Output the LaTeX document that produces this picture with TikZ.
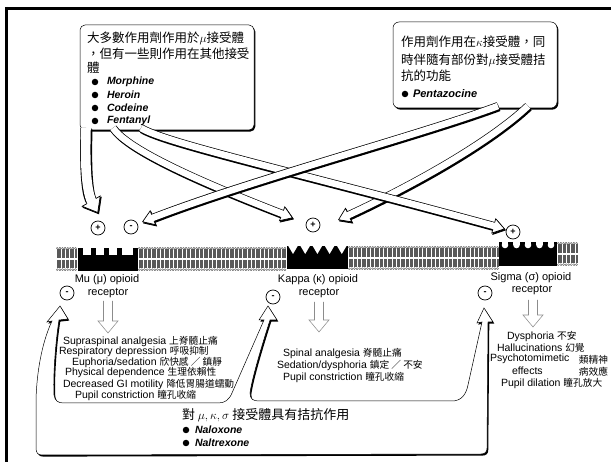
\documentclass[tikz,border=0pt]{standalone}
\usepackage{fontspec}
\setmainfont{Liberation Sans}
\newfontfamily\cjk{Noto Sans CJK TC}
\usetikzlibrary{arrows.meta}
\newcommand\zht[1]{{\cjk\fontsize{9.7}{11}\selectfont #1}}
\newcommand\lipids[3]{% x0, count, top
  \foreach \i in {0,...,#2}{%
    \pgfmathsetmacro\xx{#1+1.3+2.6*\i}%
    \draw[line width=0.22pt, black!75] (\xx,#3+1.3) circle (1.05pt) (\xx,#3+22.7) circle (1.05pt);
    \draw[line width=0.2pt, black!65] (\xx-0.55,#3+2.5) -- (\xx-0.55,#3+11.2) (\xx+0.55,#3+2.5) -- (\xx+0.55,#3+11.2)
      (\xx-0.55,#3+12.8) -- (\xx-0.55,#3+21.5) (\xx+0.55,#3+12.8) -- (\xx+0.55,#3+21.5);
  }}
% hollow arrow: outer width, inner width, head length, head width, path
\newcommand\harrow[5]{%
  \draw[line width=#1, transform canvas={xshift=1pt,yshift=-1.3pt},
    -{Triangle[length=#3,width=#4,line width=0.7pt,fill=black]}] #5;
  \draw[line width=#1, -{Triangle[length=#3,width=#4,line width=0.7pt,fill=white]}] #5;
  \draw[line width=#2, white, shorten >=#3-4pt] #5;
}
\newcommand\effarrowat[3]{%
  \draw[effarrow] (#1-4.5,#2) -- (#1-4.5,#3-12) -- (#1-10,#3-12) -- (#1,#3) -- (#1+10,#3-12) -- (#1+4.5,#3-12) -- (#1+4.5,#2);
}
\tikzset{
  every node/.style={inner sep=0pt, outer sep=0pt},
  sign/.style={circle, draw, line width=0.7pt, minimum size=14pt, font=\bfseries\fontsize{9}{9}\selectfont},
  eff/.style={anchor=west, font=\fontsize{10.5}{11}\selectfont},
  rlabel/.style={font=\fontsize{11}{12}\selectfont},
  drug/.style={anchor=west, font=\bfseries\itshape\fontsize{10.5}{11}\selectfont},
  cjkline/.style={anchor=west, font=\cjk\fontsize{12.5}{13}\selectfont},
  dot/.style={circle, fill, minimum size=6.5pt},
  effarrow/.style={draw=black!45, line width=0.55pt},
  boxline/.style={draw=black, line width=0.5pt, fill=white},
  boxshadow/.style={fill=black, transform canvas={xshift=1.3pt,yshift=-1.6pt}},
  bshape/.style={insert path={(36,448) -- (36,400)
     .. controls (37,365) and (44,338) .. (52,321) -- (47,322) -- (60,306) -- (68,319) -- (59,320)
     .. controls (55,345) and (53,380) .. (54,395) .. controls (55,401) and (58,403) .. (64,403)
     -- (218,403) .. controls (225,403) and (229,400) .. (232,393)
     -- (264,320) -- (259,320) -- (268,306) -- (277,320) -- (270,320)
     .. controls (262,345) and (252,378) .. (250,393) .. controls (250,399) and (253,401) .. (259,401)
     -- (452,401) .. controls (461,401) and (466,395) .. (468,385)
     -- (482,322) -- (477,323) -- (484,308) -- (493,322) -- (488,322)
     -- (487,448) .. controls (487,452) and (485,454) .. (481,454)
     -- (42,455) .. controls (38,455) and (36,453) .. (36,448) -- cycle}},
}
\begin{document}
\begin{tikzpicture}[x=1pt,y=-1pt]
\useasboundingbox (0,0) rectangle (611,462);
\fill[white] (0,0) rectangle (611,462);
% frame
\draw[line width=3pt] (5,8.5) -- (611,8.5);
\draw[line width=3pt] (6.5,7) -- (6.5,462);

% membrane
\lipids{56}{7}{247}
\lipids{138}{56}{247}
\lipids{348}{57}{246}
\lipids{557}{7}{242}
% mu receptor
\fill (78,255) rectangle (138,271);
\foreach \a in {78,91,104,117,133} \fill (\a,248) rectangle (\a+5,255.5);
% kappa receptor
\fill (287,246) rectangle (348,269);
\foreach \i in {0,...,4}{\pgfmathsetmacro\c{293+12.2*\i}
  \fill[white] (\c-5,245.5) -- (\c+5,245.5) -- (\c,254) -- cycle;}
% sigma receptor
\fill (499,242) rectangle (557,266);
\foreach \i in {0,...,4}{\pgfmathsetmacro\c{505+11.5*\i}
  \fill[white] (\c-3.3,241.5) rectangle (\c+3.3,245); \fill[white] (\c,245) circle (3.3pt);}

% signs
\node[sign] (mup) at (98,228) {+};
\node[sign] (mum) at (131,227) {-};
\node[sign] (kap) at (313,225) {+};
\node[sign] (sip) at (513,232) {+};
\node[sign] (mub) at (67,293) {-};
\node[sign] (kab) at (273,297) {-};
\node[sign] (sib) at (485,293) {-};

% receptor labels
\node[rlabel] (mul1) at (107,280) {Mu (μ) opioid};
\node[rlabel] (mul2) at (108,293) {receptor};
\node[rlabel] (kal1) at (318,280) {Kappa (κ) opioid};
\node[rlabel] (kal2) at (319,293) {receptor};
\node[rlabel] (sil1) at (531,278) {Sigma (σ) opioid};
\node[rlabel] (sil2) at (532,290) {receptor};

% top-left box
\fill[boxshadow] (80,25) [rounded corners=5pt] rectangle (254,130);
\filldraw[boxline] (80,25) [rounded corners=5pt] rectangle (254,130);
\node[cjkline] (t1) at (87,38) {大多數作用劑作用於$\mu$接受體};
\node[cjkline] (t2) at (87,54) {，但有一些則作用在其他接受};
\node[cjkline] (t3) at (87,68) {體};
\foreach \n/\y in {Morphine/82, Heroin/95, Codeine/108, Fentanyl/121}{
  \node[dot] at (95,\y) {};
  \node[drug] at (107,\y) {\n};}

% pentazocine box
\fill[boxshadow] (393,22) [rounded corners=6pt] rectangle (557,108);
\filldraw[boxline] (393,22) [rounded corners=6pt] rectangle (557,108);
\node[cjkline] (p1) at (401,42) {作用劑作用在$\kappa$接受體，同};
\node[cjkline] (p2) at (401,60) {時伴隨有部份對$\mu$接受體拮};
\node[cjkline] (p3) at (401,76) {抗的功能};
\node[dot] at (405,94) {};
\node[drug, font=\bfseries\itshape\fontsize{11}{12}\selectfont] (pz) at (413,94) {Pentazocine};

% arrow end points
\coordinate (As) at (86,128);  \coordinate (At) at (98,213);
\coordinate (Bs) at (113,128); \coordinate (Bt) at (293,218);
\coordinate (Cs) at (141,128); \coordinate (Ct) at (505,229);
\coordinate (Ds) at (498,106); \coordinate (Dt) at (142,222);
\coordinate (Es) at (528,106); \coordinate (Et) at (338,220);

\harrow{8pt}{6.6pt}{12pt}{16pt}{(Es) .. controls (492,140) and (420,182) .. (Et)}
\harrow{8pt}{6.6pt}{12pt}{16pt}{(Cs) .. controls (165,143) and (300,173) .. (Ct)}
\harrow{8pt}{6.6pt}{12pt}{16pt}{(Bs) .. controls (128,150) and (200,182) .. (Bt)}
\harrow{11pt}{9.6pt}{14pt}{22pt}{(As) .. controls (85,165) and (86,192) .. (At)}
\harrow{8pt}{6.6pt}{12pt}{16pt}{(Ds) .. controls (420,135) and (250,180) .. (Dt)}

% bottom callout
\fill[boxshadow, bshape];
\filldraw[boxline, bshape];
\node[anchor=west, font=\cjk\fontsize{13}{14}\selectfont] (ant) at (182,415) {對 $\mu,\kappa,\sigma$ 接受體具有拮抗作用};
\node[dot] at (186,430) {};
\node[drug] (nlx) at (195,430) {Naloxone};
\node[dot] at (186,443) {};
\node[drug] (ntx) at (195,443) {Naltrexone};

% effect arrows
\effarrowat{108}{301}{333}
\effarrowat{319}{302}{332}
\effarrowat{533}{300}{327}

% effects
\node[eff] at (63,341) {Supraspinal analgesia \zht{上脊髓止痛}};
\node[eff] at (59,352) {Respiratory depression \zht{呼吸抑制}};
\node[eff] at (72,362) {Euphoria/sedation \zht{欣快感 ／ 鎮靜}};
\node[eff] at (65,373) {Physical dependence \zht{生理依賴性}};
\node[eff] at (63,384) {Decreased GI motility \zht{降低胃腸道蠕動}};
\node[eff] at (75,395) {Pupil constriction \zht{瞳孔收縮}};

\node[eff] at (283,353) {Spinal analgesia \zht{脊髓止痛}};
\node[eff] at (277,365) {Sedation/dysphoria \zht{鎮定 ／ 不安}};
\node[eff] at (283,377) {Pupil constriction \zht{瞳孔收縮}};

\node[eff] at (507,336) {Dysphoria \zht{不安}};
\node[eff] at (497,348) {Hallucinations \zht{幻覺}};
\node[eff] at (490,359) {Psychotomimetic};
\node[anchor=east] at (608,360) {\zht{類精神}};
\node[eff] at (512,371) {effects};
\node[anchor=east] at (608,372) {\zht{病效應}};
\node[eff] at (501,383) {Pupil dilation \zht{瞳孔放大}};
\end{tikzpicture}
\end{document}
